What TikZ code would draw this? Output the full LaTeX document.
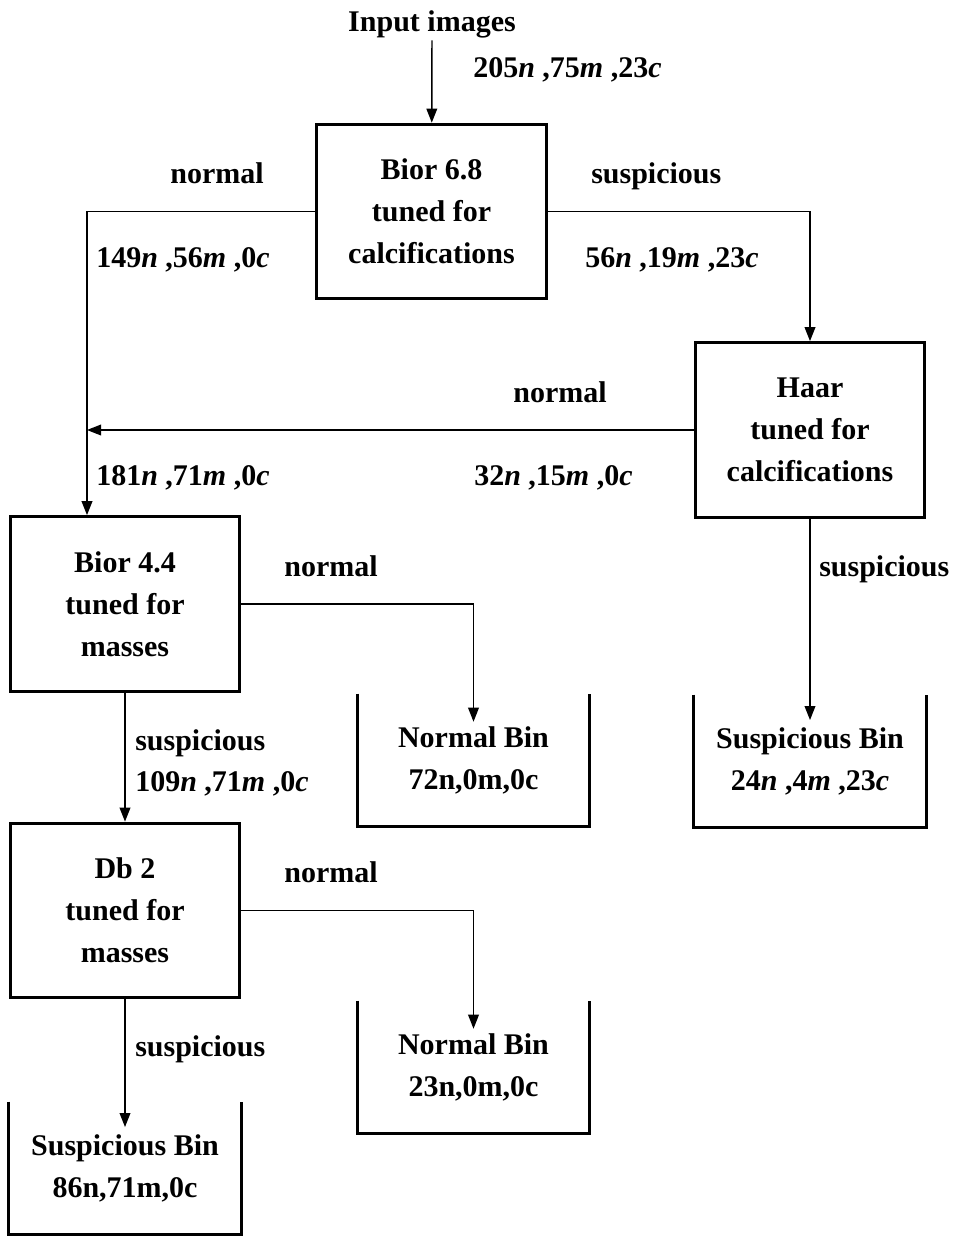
\documentclass[tikz,border=0pt]{standalone}
\usepackage{fontspec}
\setmainfont{Liberation Serif}
\usetikzlibrary{arrows.meta}
\begin{document}
\begin{tikzpicture}[x=0.75pt,y=-0.75pt,
 font=\fontsize{22.5}{31.5}\selectfont\bfseries,
 proc/.style={draw,line width=2.25pt,minimum width=172pt,minimum height=131pt,align=center,inner sep=0pt},
 bin/.style={minimum width=174pt,minimum height=99pt,align=center,inner sep=0pt},
 binline/.style={line width=2.25pt},
 conn/.style={line width=1.1pt,-{Triangle[length=10.5pt,width=8pt]}},
 lbl/.style={inner sep=0pt,anchor=west,text height=15pt,text depth=0pt},
 lblc/.style={inner sep=0pt,text height=15pt,text depth=0pt}]
\useasboundingbox (0,0) rectangle (958,1238);
% process boxes
\node[lblc] (in) at (432,22) {Input images};
\node[proc] (b68) at (431.5,211.5) {Bior 6.8\\tuned for\\calcifications};
\node[proc] (haar) at (810,430) {Haar\\tuned for\\calcifications};
\node[proc] (b44) at (125,604) {Bior 4.4\\tuned for\\masses};
\node[proc] (db2) at (125,910.5) {Db 2\\tuned for\\masses};
% bins
\node[bin] (nb1) at (473.5,760) {Normal Bin\\72n,0m,0c};
\node[bin] (sb1) at (810,761) {Suspicious Bin\\24\textit{n} ,4\textit{m} ,23\textit{c}};
\node[bin] (nb2) at (473.5,1067) {Normal Bin\\23n,0m,0c};
\node[bin] (sb2) at (125,1168) {Suspicious Bin\\86n,71m,0c};
\foreach \b in {nb1,sb1,nb2,sb2}
  \draw[binline] (\b.north west) -- (\b.south west) -- (\b.south east) -- (\b.north east);
% connectors
\coordinate (j1) at (87,0);
\draw[conn] ([yshift=-6pt]in.south) -- (b68);
\draw[conn] (b68.west) -- (b68.west -| j1) -- (j1 |- b44.north);
\draw[conn] (b68.east) -| (haar.north);
\draw[conn] (haar.west) -- (haar.west -| j1);
\draw[conn] (b44.east) -| ([yshift=-21pt]nb1.north);
\draw[conn] (b44.south) -- (db2.north);
\draw[conn] (haar.south) -- ([yshift=-19pt]sb1.north);
\draw[conn] (db2.east) -| ([yshift=-21pt]nb2.north);
\draw[conn] (db2.south) -- ([yshift=-19pt]sb2.north);
% labels
\node[lbl] (l1) at (473,68) {205\textit{n} ,75\textit{m} ,23\textit{c}};
\node[lblc] (l2) at (217,173) {normal};
\node[lbl] (l3) at (96,257) {149\textit{n} ,56\textit{m} ,0\textit{c}};
\node[lbl] (l4) at (591,173) {suspicious};
\node[lbl] (l5) at (585,257) {56\textit{n} ,19\textit{m} ,23\textit{c}};
\node[lblc] (l6) at (560,392) {normal};
\node[lbl] (l7) at (474,475) {32\textit{n} ,15\textit{m} ,0\textit{c}};
\node[lbl] (l8) at (96,475) {181\textit{n} ,71\textit{m} ,0\textit{c}};
\node[lblc] (l9) at (331,566) {normal};
\node[lbl] (l10) at (135,740) {suspicious};
\node[lbl] (l11) at (135,781) {109\textit{n} ,71\textit{m} ,0\textit{c}};
\node[lbl] (l12) at (819,566) {suspicious};
\node[lblc] (l13) at (331,872) {normal};
\node[lbl] (l14) at (135,1046) {suspicious};
\end{tikzpicture}
\end{document}
